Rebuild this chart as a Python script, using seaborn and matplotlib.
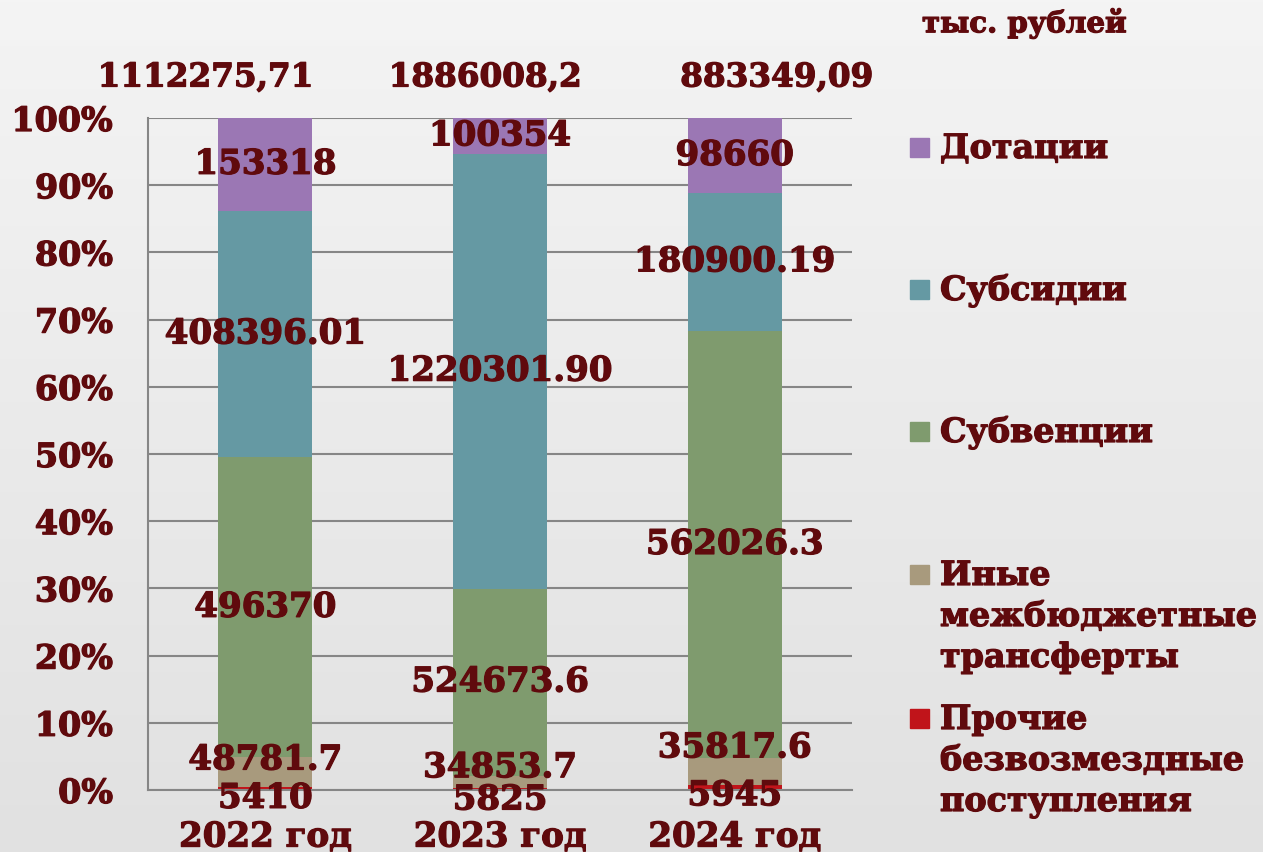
import numpy as np
import pandas as pd
import matplotlib
matplotlib.use("Agg")
import matplotlib.pyplot as plt
import matplotlib.ticker as mtick
import matplotlib.patheffects as pe
from matplotlib.colors import LinearSegmentedColormap
from matplotlib.patches import Rectangle
import seaborn as sns

years = ["2022 год", "2023 год", "2024 год"]

# series, bottom to top (labels as printed on the bars)
prochie = ["5410", "5825", "5945"]
inye = ["48781.7", "34853.7", "35817.6"]
subvencii = ["496370", "524673.6", "562026.3"]
subsidii = ["408396.01", "1220301.90", "180900.19"]
dotacii = ["153318", "100354", "98660"]

series_names = [
    "Прочие\nбезвозмездные\nпоступления",
    "Иные\nмежбюджетные\nтрансферты",
    "Субвенции",
    "Субсидии",
    "Дотации",
]
series_labels = [prochie, inye, subvencii, subsidii, dotacii]
colors = ["#C0141A", "#A89A7D", "#7F9B6E", "#6599A3", "#9B77B4"]
unit = "тыс. рублей"

text_color = "#600A0D"
grid_color = "#868686"
heavy = [pe.withStroke(linewidth=0.9, foreground=text_color)]

rows = []
for name, labs in zip(series_names, series_labels):
    for y, v in zip(years, labs):
        rows.append({"year": y, "series": name, "label": v, "value": float(v)})
df = pd.DataFrame(rows)
totals = df.groupby("year", sort=False)["value"].sum().reindex(years).values

sns.set_theme(style="white")
plt.rcParams["font.family"] = ["DejaVu Serif"]
plt.rcParams["font.weight"] = "bold"

W, H = 1263, 853
fig = plt.figure(figsize=(W / 100, H / 100), dpi=100)

# light grey gradient background
bg = fig.add_axes([0, 0, 1, 1], zorder=-10)
grad = np.linspace(0, 1, 256).reshape(-1, 1)
bg.imshow(grad, aspect="auto", extent=[0, 1, 0, 1],
          cmap=LinearSegmentedColormap.from_list("bg", ["#F4F4F4", "#E1E1E1"]))
bg.axis("off")

ax = fig.add_axes([148 / W, 1 - 791 / H, 704 / W, 672 / H])
ax.set_facecolor("none")

bottom = np.zeros(len(years))
for name, col in zip(series_names, colors):
    share = df[df["series"] == name]["value"].values / totals
    sns.barplot(x=years, y=share, bottom=bottom, color=col, width=0.4,
                saturation=1, linewidth=0, errorbar=None, ax=ax)
    bottom = bottom + share

ax.set_ylim(0, 1)
ax.set_xlim(-0.5, 2.5)

# label offsets in pixels (up positive), for the thin bottom segments
offsets = {
    series_names[0]: [-10, -11, -8],
    series_names[1]: [12, 14, 24],
}
lab_style = dict(ha="center", va="center", color=text_color,
                 fontsize=24.5, fontweight="bold", textcoords="offset points",
                 path_effects=heavy)
for name, labs, cont in zip(series_names, series_labels, ax.containers):
    offs = offsets.get(name, [0, 0, 0])
    for p, lab, off in zip(cont.patches, labs, offs):
        cx = p.get_x() + p.get_width() / 2
        cy = p.get_y() + p.get_height() / 2
        ax.annotate(lab, (cx, cy), xytext=(0, off * 0.72), **lab_style)

# totals above bars (text boxes sit off-centre on the slide)
total_dx = [-60, -15, 42]
for p, tot, dx in zip(ax.containers[-1].patches, totals, total_dx):
    txt = f"{tot:.2f}".rstrip("0").rstrip(".").replace(".", ",")
    ax.annotate(txt, (p.get_x() + p.get_width() / 2, 1.0),
                xytext=(dx * 0.72, 41 * 0.72),
                ha="center", va="center", color=text_color, fontsize=23.5,
                fontweight="bold", textcoords="offset points",
                annotation_clip=False, path_effects=heavy)

ax.set_yticks(np.arange(0, 1.01, 0.1))
ax.yaxis.set_major_formatter(mtick.PercentFormatter(1.0, decimals=0))
ax.set_xlabel("")
ax.set_ylabel("")
ax.set_axisbelow(True)
ax.yaxis.grid(True, color=grid_color, linewidth=1.5)
ax.xaxis.grid(False)
for s in ["top", "right"]:
    ax.spines[s].set_visible(False)
for s in ["left", "bottom"]:
    ax.spines[s].set_color(grid_color)
    ax.spines[s].set_linewidth(1.5)

ax.tick_params(axis="y", length=8, width=1.5, color=grid_color, pad=17,
               labelsize=24, labelcolor=text_color)
ax.tick_params(axis="x", which="major", length=0, pad=22,
               labelsize=24.5, labelcolor=text_color)
ax.set_xticks([-0.5, 0.5, 1.5, 2.5], minor=True)
ax.tick_params(axis="x", which="minor", length=6.5, width=1.5, color=grid_color)
for t in ax.get_xticklabels() + ax.get_yticklabels():
    t.set_fontweight("bold")
    t.set_path_effects(heavy)

# legend drawn by hand to keep the slide spacing
marker_y = [719, 575, 432, 290, 148]
for name, col, yc in zip(series_names, colors, marker_y):
    fig.patches.append(Rectangle((910 / W, 1 - (yc + 9.5) / H), 19 / W, 19 / H,
                                 transform=fig.transFigure, color=col))
    for k, line in enumerate(name.split("\n")):
        fig.text(940 / W, 1 - (yc + 11 + k * 41) / H, line, ha="left", va="baseline",
                 color=text_color, fontsize=24, fontweight="bold", path_effects=heavy)

fig.text(922 / W, 1 - 24 / H, unit, ha="left", va="center", color=text_color,
         fontsize=21, fontweight="bold", path_effects=heavy)

fig.savefig("out.png", dpi=100)
